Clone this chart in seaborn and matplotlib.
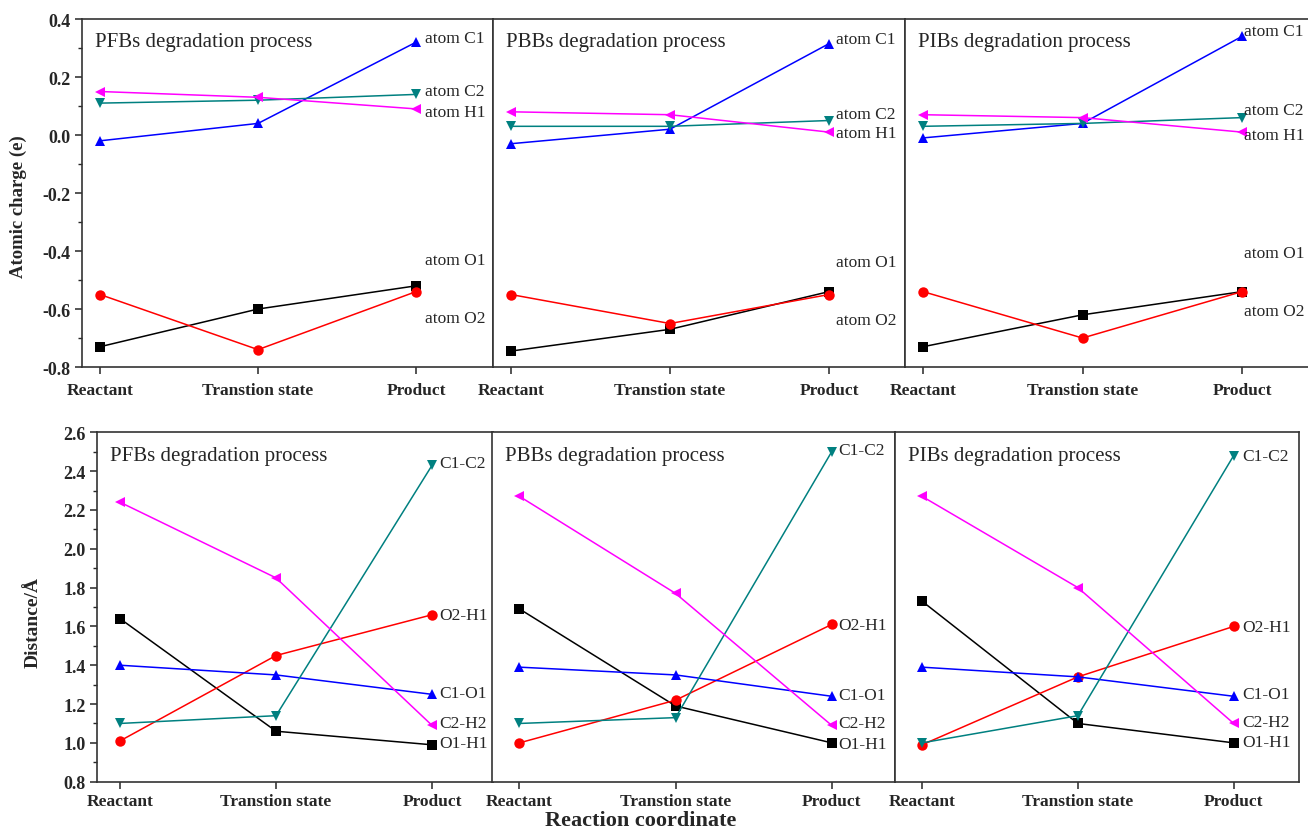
#charge and distance changes along the reaction path

import pandas as pd
import matplotlib.pyplot as plt
import seaborn as sns
from matplotlib.ticker import MultipleLocator, AutoMinorLocator

stages = ['Reactant', 'Transtion state', 'Product']
processes = ['PFBs', 'PBBs', 'PIBs']

# atomic charge (e)
atoms = ['atom O1', 'atom O2', 'atom C1', 'atom C2', 'atom H1']
charge_pfbs = {'atom O1': [-0.73, -0.60, -0.52], 'atom O2': [-0.55, -0.74, -0.54],
               'atom C1': [-0.02, 0.04, 0.32], 'atom C2': [0.11, 0.12, 0.14],
               'atom H1': [0.15, 0.13, 0.09]}
charge_pbbs = {'atom O1': [-0.745, -0.67, -0.54], 'atom O2': [-0.55, -0.65, -0.55],
               'atom C1': [-0.03, 0.02, 0.315], 'atom C2': [0.03, 0.03, 0.05],
               'atom H1': [0.08, 0.07, 0.01]}
charge_pibs = {'atom O1': [-0.73, -0.62, -0.54], 'atom O2': [-0.54, -0.70, -0.54],
               'atom C1': [-0.01, 0.04, 0.34], 'atom C2': [0.03, 0.04, 0.06],
               'atom H1': [0.07, 0.06, 0.01]}

# bond distance (angstrom)
bonds = ['O1-H1', 'O2-H1', 'C1-O1', 'C1-C2', 'C2-H2']
dist_pfbs = {'O1-H1': [1.64, 1.06, 0.99], 'O2-H1': [1.01, 1.45, 1.66],
             'C1-O1': [1.40, 1.35, 1.25], 'C1-C2': [1.10, 1.14, 2.43],
             'C2-H2': [2.24, 1.85, 1.09]}
dist_pbbs = {'O1-H1': [1.69, 1.19, 1.00], 'O2-H1': [1.00, 1.22, 1.61],
             'C1-O1': [1.39, 1.35, 1.24], 'C1-C2': [1.10, 1.13, 2.50],
             'C2-H2': [2.27, 1.77, 1.09]}
dist_pibs = {'O1-H1': [1.73, 1.10, 1.00], 'O2-H1': [0.99, 1.34, 1.60],
             'C1-O1': [1.39, 1.34, 1.24], 'C1-C2': [1.00, 1.14, 2.48],
             'C2-H2': [2.27, 1.80, 1.10]}

# where the end labels sit (layout only)
charge_label_y = [
    {'atom C1': 0.334, 'atom C2': 0.152, 'atom H1': 0.079, 'atom O1': -0.431, 'atom O2': -0.631},
    {'atom C1': 0.331, 'atom C2': 0.072, 'atom H1': 0.007, 'atom O1': -0.438, 'atom O2': -0.638},
    {'atom C1': 0.359, 'atom C2': 0.086, 'atom H1': 0.000, 'atom O1': -0.407, 'atom O2': -0.607},
]
dist_label_y = [
    {'C1-C2': 2.442, 'O2-H1': 1.66, 'C1-O1': 1.257, 'C2-H2': 1.10, 'O1-H1': 0.999},
    {'C1-C2': 2.51, 'O2-H1': 1.609, 'C1-O1': 1.248, 'C2-H2': 1.10, 'O1-H1': 0.994},
    {'C1-C2': 2.479, 'O2-H1': 1.597, 'C1-O1': 1.252, 'C2-H2': 1.107, 'O1-H1': 1.004},
]

colors = ['black', 'red', 'blue', '#008080', 'magenta']
marks = ['s', 'o', '^', 'v', '<']


def long_table(values, names):
    rows = []
    for name in names:
        for i, v in enumerate(values[name]):
            rows.append({'pos': i, 'stage': stages[i], 'series': name, 'value': v})
    return pd.DataFrame(rows)


def draw_panel(ax, values, names, label_y, title, ylim, xlim, first, label_dx, xpad):
    df = long_table(values, names)
    sns.lineplot(data=df, x='pos', y='value', hue='series', style='series',
                 hue_order=names, style_order=names,
                 palette=dict(zip(names, colors)), markers=dict(zip(names, marks)),
                 dashes=False, markersize=7.5, markeredgewidth=0, linewidth=1.1,
                 errorbar=None, legend=False, ax=ax)
    for name in names:
        ax.annotate(name, xy=(2, label_y[name]), xytext=(label_dx, 0),
                    textcoords='offset points', ha='left', va='center', fontsize=12.5)
    ax.text(0.032, 0.935, title, transform=ax.transAxes, ha='left', va='center', fontsize=15)
    ax.set_xlim(*xlim)
    ax.set_ylim(*ylim)
    ax.set_xticks([0, 1, 2])
    ax.set_xticklabels(stages, fontweight='bold', fontsize=12.5)
    ax.yaxis.set_major_locator(MultipleLocator(0.2))
    ax.yaxis.set_minor_locator(AutoMinorLocator(2))
    ax.set_xlabel('')
    ax.set_ylabel('')
    ax.tick_params(axis='both', which='major', direction='out', length=5, width=1.1, pad=3)
    ax.tick_params(axis='x', which='major', pad=xpad)
    ax.tick_params(axis='y', which='minor', direction='out', length=3, width=1.0)
    ax.tick_params(axis='x', which='both', top=False)
    ax.tick_params(axis='y', which='both', right=False)
    if first:
        for lab in ax.get_yticklabels():
            lab.set_fontweight('bold')
            lab.set_fontsize(13)
    else:
        ax.tick_params(axis='y', which='both', left=False, labelleft=False)
    for sp in ax.spines.values():
        sp.set_linewidth(1.2)
        sp.set_color('#333333')


def main():
    sns.set_style('ticks')
    plt.rcParams['font.family'] = ['Liberation Serif', 'DejaVu Serif']
    plt.rcParams['axes.unicode_minus'] = False

    fig = plt.figure(figsize=(13.08, 8.37), dpi=100)

    top_boxes = [[0.0627, 0.5603, 0.3142, 0.4158],
                 [0.3769, 0.5603, 0.3150, 0.4158],
                 [0.6919, 0.5603, 0.3081, 0.4158]]
    top_xlims = [(-0.114, 2.487), (-0.113, 2.478), (-0.113, 2.414)]
    top_dx = [6.5, 5, 1.5]
    bottom_boxes = [[0.0742, 0.0649, 0.3025, 0.4174],
                    [0.3765, 0.0649, 0.3077, 0.4174],
                    [0.6843, 0.0649, 0.3089, 0.4174]]
    bottom_xlims = [(-0.147, 2.389), (-0.173, 2.405), (-0.173, 2.42)]
    bottom_dx = [5, 4.5, 6]

    charges = [charge_pfbs, charge_pbbs, charge_pibs]
    dists = [dist_pfbs, dist_pbbs, dist_pibs]

    for i in range(3):
        ax = fig.add_axes(top_boxes[i])
        draw_panel(ax, charges[i], atoms, charge_label_y[i],
                   processes[i] + ' degradation process', (-0.8, 0.4),
                   top_xlims[i], i == 0, top_dx[i], 6)
        if i == 2:
            ax.spines['right'].set_visible(False)

    for i in range(3):
        ax = fig.add_axes(bottom_boxes[i])
        draw_panel(ax, dists[i], bonds, dist_label_y[i],
                   processes[i] + ' degradation process', (0.8, 2.6),
                   bottom_xlims[i], i == 0, bottom_dx[i], 3)

    fig.text(0.0138, 0.7527, 'Atomic charge (e)', rotation=90, ha='center', va='center',
             fontsize=13.5, fontweight='bold')
    fig.text(0.0252, 0.2557, 'Distance/Å', rotation=90, ha='center', va='center',
             fontsize=14, fontweight='bold')
    fig.text(0.49, 0.019, 'Reaction coordinate', ha='center', va='center',
             fontsize=16, fontweight='bold')

    plt.savefig('out.png', dpi=100)


if __name__ == '__main__':
    main()
